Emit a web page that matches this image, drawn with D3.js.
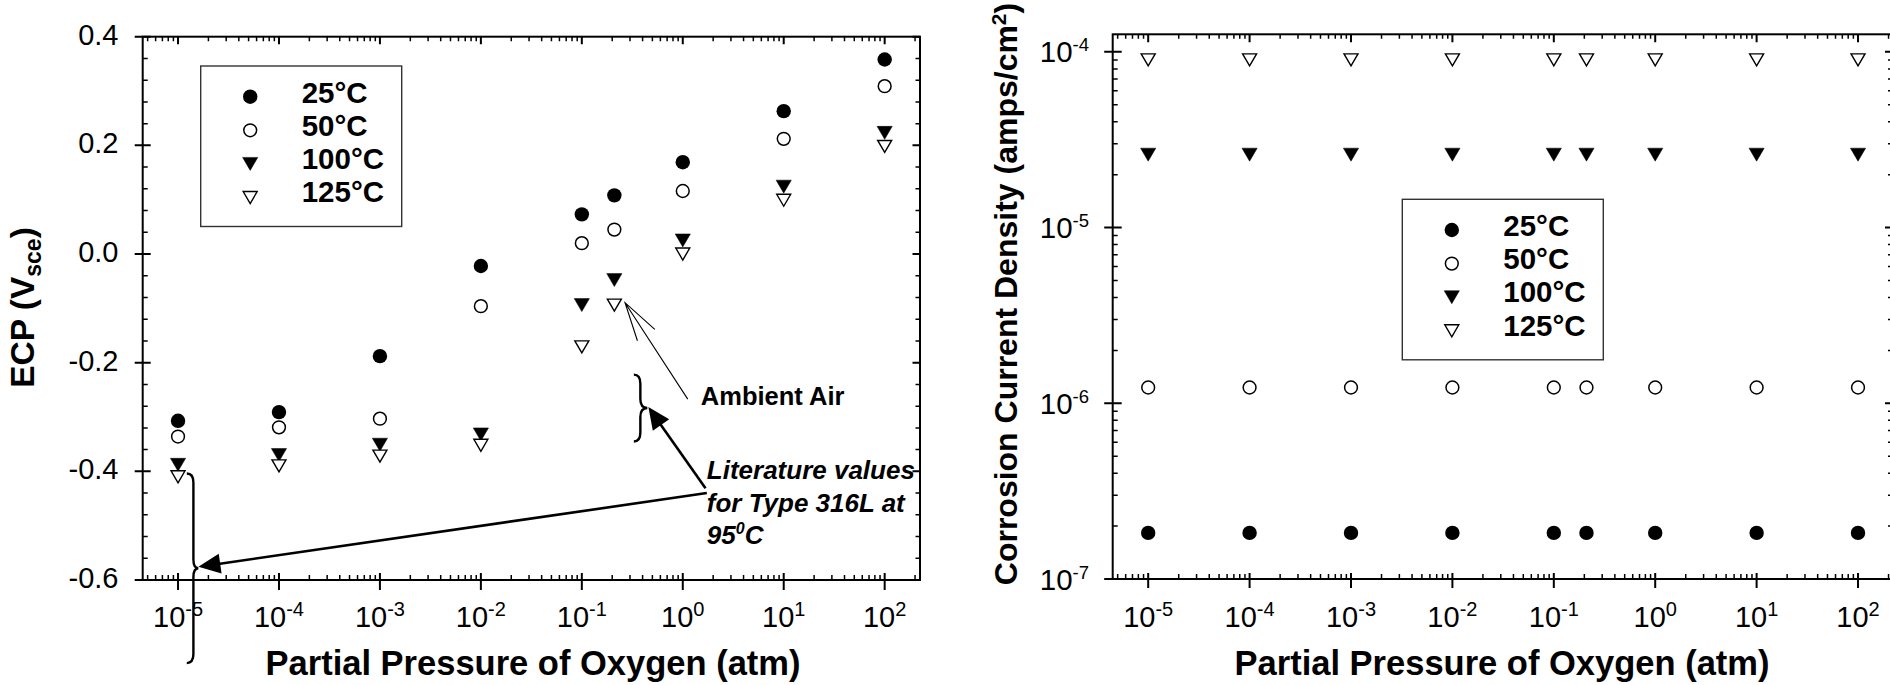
<!DOCTYPE html>
<html><head><meta charset="utf-8">
<script src="https://cdn.jsdelivr.net/npm/d3@7"></script>
<style>
html,body{margin:0;padding:0;background:#fff;}
svg{display:block;font-family:"Liberation Sans",Arial,Helvetica,sans-serif;}
</style></head><body>
<svg id="chart" width="1890" height="685"></svg>
<script>
// ---- data ----
const pressures = [1e-5, 1e-4, 1e-3, 1e-2, 1e-1, 0.21, 1, 10, 100];
const seriesNames = ["25°C", "50°C", "100°C", "125°C"];
const seriesSymbols = ["circleFilled", "circleOpen", "triFilled", "triOpen"];

// electrochemical corrosion potential, V vs SCE
const ecp25  = [-0.307, -0.291, -0.188, -0.022,  0.073,  0.108, 0.169, 0.263, 0.358];
const ecp50  = [-0.336, -0.319, -0.303, -0.096,  0.020,  0.045, 0.116, 0.212, 0.309];
const ecp100 = [-0.388, -0.370, -0.351, -0.332, -0.094, -0.048, 0.025, 0.124, 0.223];
const ecp125 = [-0.410, -0.390, -0.372, -0.352, -0.171, -0.094, 0.000, 0.099, 0.198];

// corrosion current density, A/cm^2
const icorr25  = [1.83e-7, 1.83e-7, 1.83e-7, 1.83e-7, 1.83e-7, 1.83e-7, 1.83e-7, 1.83e-7, 1.83e-7];
const icorr50  = [1.23e-6, 1.23e-6, 1.23e-6, 1.23e-6, 1.23e-6, 1.23e-6, 1.23e-6, 1.23e-6, 1.23e-6];
const icorr100 = [2.6e-5, 2.6e-5, 2.6e-5, 2.6e-5, 2.6e-5, 2.6e-5, 2.6e-5, 2.6e-5, 2.6e-5];
const icorr125 = [9.0e-5, 9.0e-5, 9.0e-5, 9.0e-5, 9.0e-5, 9.0e-5, 9.0e-5, 9.0e-5, 9.0e-5];

// axis ticks
const pressureExponents = [-5, -4, -3, -2, -1, 0, 1, 2];
const ecpTicks = [-0.6, -0.4, -0.2, 0.0, 0.2, 0.4];
const ecpTickLabels = ["-0.6", "-0.4", "-0.2", "0.0", "0.2", "0.4"];
const icorrExponents = [-7, -6, -5, -4];

// literature ranges and annotation anchors (data coordinates of the ECP panel)
const ambientRange = {p: 0.38, lo: -0.345, hi: -0.222};
const literatureRange = {p: 1.42e-5, lo: -0.753, hi: -0.404};
const ambientPointer = {from: [1.12, -0.267], to: [0.268, -0.0896]};
const ambientLabel = {p: 1.51, v: -0.278, text: "Ambient Air"};
const literatureLabel = {p: 1.73, v: -0.4147, lines: ["Literature values", "for Type 316L at"]};
const literatureArrowStarts = [[1.68, -0.431], [1.73, -0.440]];

// ---- drawing ----
const svg = d3.select("#chart");

const xL = d3.scaleLog().domain([Math.pow(10, -5.35), Math.pow(10, 2.35)]).range([142.7, 920]);
const yL = d3.scaleLinear().domain([-0.6, 0.4]).range([580, 36.7]);
const xR = d3.scaleLog().domain([Math.pow(10, -5.35), Math.pow(10, 2.34)]).range([1112.7, 1892.5]);
const yR = d3.scaleLog().domain([1e-7, Math.pow(10, -3.9)]).range([579, 34.3]);

function logMinors(scale) {
  const [a, b] = scale.domain();
  const out = [];
  for (let k = -8; k <= 3; k++) {
    for (let m = 2; m <= 9; m++) {
      const v = m * Math.pow(10, k);
      if (v > a && v < b) out.push(v);
    }
  }
  return out;
}

function tickPath(g, segs, width) {
  g.append("path")
    .attr("d", segs.map(s => `M${s[0]},${s[1]}L${s[2]},${s[3]}`).join(""))
    .attr("stroke", "#000").attr("stroke-width", width).attr("fill", "none");
}

function drawFrame(g, x, y, opts) {
  const [x0, x1] = x.range();
  const [y1, y0] = y.range();
  // x ticks bottom & top
  const xMaj = pressureExponents.map(e => x(Math.pow(10, e)));
  const xMin = logMinors(x).map(v => x(v));
  tickPath(g, xMaj.map(px => [px, y1 - opts.bIn, px, y1 + opts.bOut]), 2);
  tickPath(g, xMin.map(px => [px, y1 - 5, px, y1]), 1.5);
  tickPath(g, xMaj.map(px => [px, y0, px, y0 + opts.tIn]), 2);
  tickPath(g, xMin.map(px => [px, y0, px, y0 + 4.5]), 1.5);
  // y ticks left & right
  tickPath(g, opts.yMaj.map(py => [x0 - opts.lOut, py, x0 + opts.lIn, py]), 2);
  tickPath(g, opts.yMin.map(py => [x0, py, x0 + 5, py]), 1.5);
  tickPath(g, opts.yMaj.map(py => [x1 - 7.5, py, x1, py]), 2);
  tickPath(g, opts.yMin.map(py => [x1 - 4.5, py, x1, py]), 1.5);
  g.append("rect").attr("x", x0).attr("y", y0).attr("width", x1 - x0).attr("height", y1 - y0)
    .attr("fill", "none").attr("stroke", "#000").attr("stroke-width", 2);
  // x tick labels
  pressureExponents.forEach(e => {
    const t = g.append("text").attr("x", x(Math.pow(10, e))).attr("y", 627)
      .attr("text-anchor", "middle").attr("font-size", 29).attr("fill", "#000");
    t.append("tspan").text("10");
    t.append("tspan").attr("dy", -11).attr("font-size", 20).text(String(e));
  });
}

function marker(g, type, cx, cy) {
  if (type === "circleFilled") {
    g.append("circle").attr("cx", cx).attr("cy", cy).attr("r", 7.2).attr("fill", "#000");
  } else if (type === "circleOpen") {
    g.append("circle").attr("cx", cx).attr("cy", cy).attr("r", 6.4)
      .attr("fill", "#fff").attr("stroke", "#000").attr("stroke-width", 1.5);
  } else {
    const open = type === "triOpen";
    const w = open ? 7 : 7.6, h = open ? 6 : 6.5;
    g.append("path").attr("d", `M${cx - w},${cy - h}L${cx + w},${cy - h}L${cx},${cy + h}Z`)
      .attr("fill", open ? "#fff" : "#000").attr("stroke", "#000")
      .attr("stroke-width", open ? 1.4 : 0.5).attr("stroke-linejoin", "miter");
  }
}

function legend(g, lx, ly) {
  g.append("rect").attr("x", lx).attr("y", ly).attr("width", 201).attr("height", 160.5)
    .attr("fill", "#fff").attr("stroke", "#333").attr("stroke-width", 1.4);
  seriesNames.forEach((name, i) => {
    marker(g, seriesSymbols[i], lx + 49.5, ly + 30.7 + i * 33.6);
    g.append("text").attr("x", lx + 101).attr("y", ly + 36.5 + i * 33.3)
      .attr("font-size", 29.5).attr("font-weight", "bold").attr("fill", "#000").text(name);
  });
}

// ===== left panel: ECP =====
const gL = svg.append("g");
drawFrame(gL, xL, yL, {
  bIn: 7, bOut: 10, tIn: 7.5, lIn: 8, lOut: 8,
  yMaj: ecpTicks.map(v => yL(v)),
  yMin: d3.range(-15, 11).map(i => i * 0.04).filter(v => Math.abs(Math.round(v * 5) - v * 5) > 1e-6).map(v => yL(v))
});
ecpTicks.forEach((v, i) => {
  gL.append("text").attr("x", 118.5).attr("y", yL(v) + 8).attr("text-anchor", "end")
    .attr("font-size", 29).attr("fill", "#000").text(ecpTickLabels[i]);
});
[ecp25, ecp50, ecp100, ecp125].forEach((vals, si) => {
  vals.forEach((v, i) => marker(gL, seriesSymbols[si], xL(pressures[i]), yL(v)));
});
legend(gL, 200.7, 66);

// axis titles
gL.append("text").attr("x", 533).attr("y", 675).attr("text-anchor", "middle")
  .attr("font-size", 34.5).attr("font-weight", "bold").text("Partial Pressure of Oxygen (atm)");
{
  const t = gL.append("text").attr("transform", "translate(33.5,307.5) rotate(-90)")
    .attr("text-anchor", "middle").attr("font-size", 33.5).attr("font-weight", "bold");
  t.append("tspan").text("ECP (V");
  t.append("tspan").attr("dy", 7).attr("font-size", 23).text("sce");
  t.append("tspan").attr("dy", -7).text(")");
}

// braces marking literature ranges
function brace(g, xv, yTop, yBot, w, c) {
  const ym = (yTop + yBot) / 2, r = 9;
  const d = `M${xv - w},${yTop}Q${xv},${yTop} ${xv},${yTop + r}L${xv},${ym - r}` +
            `Q${xv},${ym} ${xv + c},${ym}Q${xv},${ym} ${xv},${ym + r}` +
            `L${xv},${yBot - r}Q${xv},${yBot} ${xv - w},${yBot}`;
  g.append("path").attr("d", d).attr("fill", "none").attr("stroke", "#000").attr("stroke-width", 2.4);
  return [xv + c, ym];
}
const ambCusp = brace(gL, xL(ambientRange.p), yL(ambientRange.hi), yL(ambientRange.lo), 6.5, 7);
const litCusp = brace(gL, xL(literatureRange.p), yL(literatureRange.hi), yL(literatureRange.lo), 6.6, 5);

function solidArrow(g, sx, sy, tx, ty) {
  const dx = tx - sx, dy = ty - sy, L = Math.hypot(dx, dy);
  const ux = dx / L, uy = dy / L, hl = 22, hw = 10;
  const bx = tx - ux * hl, by = ty - uy * hl;
  g.append("line").attr("x1", sx).attr("y1", sy).attr("x2", bx + ux * 2).attr("y2", by + uy * 2)
    .attr("stroke", "#000").attr("stroke-width", 2.6);
  g.append("path").attr("d",
    `M${tx},${ty}L${bx - uy * hw},${by + ux * hw}L${bx + uy * hw},${by - ux * hw}Z`).attr("fill", "#000");
}
const a1 = literatureArrowStarts[0], a2 = literatureArrowStarts[1];
solidArrow(gL, xL(a1[0]), yL(a1[1]), ambCusp[0] + 1, ambCusp[1] - 1);
solidArrow(gL, xL(a2[0]), yL(a2[1]), litCusp[0], litCusp[1] - 1.5);

// thin open arrow to the ambient-air point
{
  const sx = xL(ambientPointer.from[0]), sy = yL(ambientPointer.from[1]);
  const tx = xL(ambientPointer.to[0]), ty = yL(ambientPointer.to[1]);
  const ang = Math.atan2(sy - ty, sx - tx), spread = 15 * Math.PI / 180, bl = 40;
  const d = `M${sx},${sy}L${tx},${ty}` +
    `M${tx + bl * Math.cos(ang - spread)},${ty + bl * Math.sin(ang - spread)}L${tx},${ty}` +
    `L${tx + bl * Math.cos(ang + spread)},${ty + bl * Math.sin(ang + spread)}`;
  gL.append("path").attr("d", d).attr("fill", "none").attr("stroke", "#000").attr("stroke-width", 1.1);
}
gL.append("text").attr("x", xL(ambientLabel.p)).attr("y", yL(ambientLabel.v))
  .attr("font-size", 25.5).attr("font-weight", "bold").text(ambientLabel.text);
{
  const lx = xL(literatureLabel.p), ly = yL(literatureLabel.v);
  literatureLabel.lines.forEach((s, i) => {
    gL.append("text").attr("x", lx).attr("y", ly + i * 32.2).attr("font-size", 26)
      .attr("font-weight", "bold").attr("font-style", "italic").text(s);
  });
  const t = gL.append("text").attr("x", lx).attr("y", ly + 2 * 32.2).attr("font-size", 26)
    .attr("font-weight", "bold").attr("font-style", "italic");
  t.append("tspan").text("95");
  t.append("tspan").attr("dy", -10).attr("font-size", 16).text("0");
  t.append("tspan").attr("dy", 10).text("C");
}

// ===== right panel: corrosion current density =====
const gR = svg.append("g");
drawFrame(gR, xR, yR, {
  bIn: 6, bOut: 9, tIn: 8, lIn: 9, lOut: 8.5,
  yMaj: icorrExponents.map(e => yR(Math.pow(10, e))),
  yMin: logMinors(yR).map(v => yR(v))
});
icorrExponents.forEach(e => {
  const t = gR.append("text").attr("x", 1089).attr("y", yR(Math.pow(10, e)) + 10.5)
    .attr("text-anchor", "end").attr("font-size", 29.5).attr("fill", "#000");
  t.append("tspan").text("10");
  t.append("tspan").attr("dy", -11).attr("font-size", 18.5).text(String(e));
});
[icorr25, icorr50, icorr100, icorr125].forEach((vals, si) => {
  vals.forEach((v, i) => marker(gR, seriesSymbols[si], xR(pressures[i]), yR(v)));
});
legend(gR, 1402.3, 199.3);

gR.append("text").attr("x", 1502).attr("y", 675).attr("text-anchor", "middle")
  .attr("font-size", 34.5).attr("font-weight", "bold").text("Partial Pressure of Oxygen (atm)");
{
  const t = gR.append("text").attr("transform", "translate(1017,294) rotate(-90)")
    .attr("text-anchor", "middle").attr("font-size", 32).attr("font-weight", "bold");
  t.append("tspan").text("Corrosion Current Density (amps/cm");
  t.append("tspan").attr("dy", -11).attr("font-size", 21).text("2");
  t.append("tspan").attr("dy", 11).text(")");
}
</script>
</body></html>
